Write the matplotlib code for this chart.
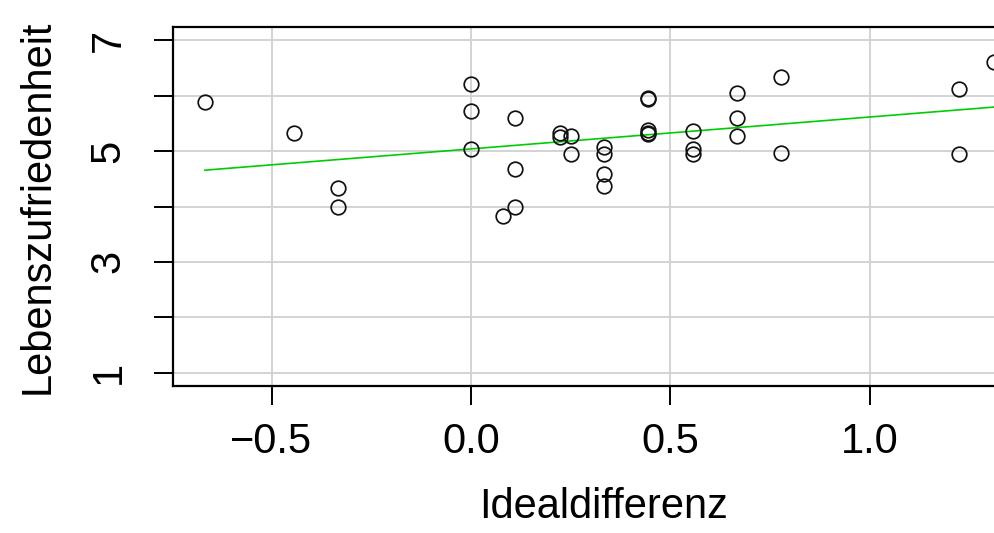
import numpy as np
import matplotlib
matplotlib.use("Agg")
import matplotlib.pyplot as plt

# Data
idealdifferenz = [
    -0.667, -0.444, -0.333, -0.333,
    0.0, 0.0, 0.0,
    0.111, 0.111, 0.111, 0.08,
    0.222, 0.222, 0.25, 0.25,
    0.333, 0.333, 0.333, 0.333,
    0.444, 0.444, 0.444, 0.444, 0.444,
    0.556, 0.556, 0.556,
    0.667, 0.667, 0.667,
    0.778, 0.778,
    1.222, 1.222, 1.31,
]
lebenszufriedenheit = [
    5.88, 5.32, 4.33, 4.00,
    6.22, 5.73, 5.04,
    5.60, 4.67, 4.00, 3.82,
    5.33, 5.26, 5.27, 4.95,
    5.08, 4.94, 4.58, 4.37,
    5.95, 5.94, 5.39, 5.33, 5.30,
    5.36, 5.03, 4.95,
    6.05, 5.60, 5.28,
    6.34, 4.97,
    6.13, 4.95, 6.61,
]

# Regression line (intercept, slope)
intercept = 5.04
slope = 0.576

plt.rcParams["font.family"] = ["Liberation Sans", "DejaVu Sans"]

fig = plt.figure(figsize=(9.94, 5.33), dpi=100)
ax = fig.add_axes([0.174, 0.2758, 0.867, 0.6735])

x = np.array(idealdifferenz)
y = np.array(lebenszufriedenheit)

ax.set_xlim(-0.747, 1.413)
ax.set_ylim(0.76, 7.24)

ax.set_xticks([-0.5, 0.0, 0.5, 1.0])
ax.set_xticklabels(["\u22120.5", "0.0", "0.5", "1.0"])
ax.set_yticks(range(1, 8))
ax.set_yticklabels(["1", "", "3", "", "5", "", "7"], rotation=90, va="center")

ax.grid(True, color="#d3d3d3", linewidth=1.4, zorder=0)
ax.set_axisbelow(True)

ax.plot(x, y, linestyle="none", marker="o", markersize=10.5,
        markerfacecolor="none", markeredgecolor="#111111",
        markeredgewidth=1.25, zorder=3)

xl = np.array([x.min(), x.max()])
ax.plot(xl, intercept + slope * xl, color="#00cd00", linewidth=1.2, zorder=2)

for s in ax.spines.values():
    s.set_linewidth(1.6)
ax.tick_params(axis="both", length=14, width=1.4, labelsize=30, direction="out")
ax.tick_params(axis="x", pad=12)
ax.tick_params(axis="y", pad=18)

ax.set_xlabel("Idealdifferenz", fontsize=30, labelpad=18)
ax.set_ylabel("Lebenszufriedenheit", fontsize=30, labelpad=22)

fig.savefig("out.png", dpi=100)
